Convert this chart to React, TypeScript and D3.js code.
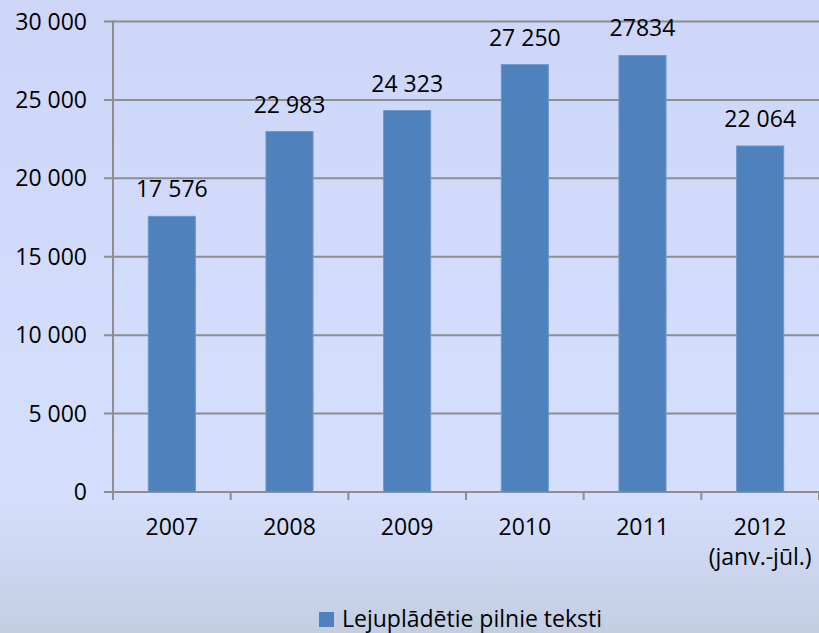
import React from 'react';
import * as d3 from 'd3';

const years = ['2007', '2008', '2009', '2010', '2011', '2012'];
const subLabels = ['', '', '', '', '', '(janv.-jūl.)'];
const downloads = [17576, 22983, 24323, 27250, 27834, 22064];
const valueLabels = ['17 576', '22 983', '24 323', '27 250', '27834', '22 064'];
const yTicks = [0, 5000, 10000, 15000, 20000, 25000, 30000];
const seriesName = 'Lejuplādētie pilnie teksti';

const W = 819;
const H = 633;
const font = '"Open Sans", sans-serif';
const fs = 23;

const fmt = (v: number) => (v >= 1000 ? `${Math.floor(v / 1000)} ${String(v % 1000).padStart(3, '0')}` : String(v));

export default function App() {
  const x = d3.scaleBand<string>().domain(years).range([113, 819]).padding(0);
  const y = d3.scaleLinear().domain([0, 30000]).range([492, 21.5]);
  const barW = x.bandwidth() * 0.4;
  const gridColor = '#8e8e8e';

  return (
    <svg width={W} height={H} style={{ position: 'absolute', left: 0, top: 0 }}>
      <defs>
        <linearGradient id="bg" x1="0" y1="0" x2="0" y2="1">
          <stop offset="0" stopColor="#cdd6f8" />
          <stop offset="0.78" stopColor="#d5dffd" />
          <stop offset="1" stopColor="#c3cee2" />
        </linearGradient>
      </defs>
      <rect x={0} y={0} width={W} height={H} fill="url(#bg)" />

      {yTicks.map(t => (
        <g key={t}>
          <line x1={104} x2={W} y1={y(t)} y2={y(t)} stroke={gridColor} strokeWidth={2} />
          <text x={87} y={y(t) + 8} textAnchor="end" fontFamily={font} fontSize={fs} fill="#000">
            {fmt(t)}
          </text>
        </g>
      ))}
      <line x1={113} x2={113} y1={y(30000) - 1} y2={500} stroke={gridColor} strokeWidth={2} />
      {years.map(c => (
        <line key={c} x1={(x(c) as number) + x.bandwidth()} x2={(x(c) as number) + x.bandwidth()} y1={492} y2={500} stroke={gridColor} strokeWidth={2} />
      ))}

      {years.map((c, i) => {
        const cx = (x(c) as number) + x.bandwidth() / 2;
        return (
          <g key={c}>
            <rect x={cx - barW / 2} y={y(downloads[i])} width={barW} height={y(0) - y(downloads[i])} fill="#4f81bd" stroke="#6f96c8" strokeWidth={1} />
            <text x={cx} y={y(downloads[i]) - 19} textAnchor="middle" fontFamily={font} fontSize={fs} fill="#000">
              {valueLabels[i]}
            </text>
            <text x={cx} y={535} textAnchor="middle" fontFamily={font} fontSize={fs} fill="#000">
              {c}
            </text>
            {subLabels[i] && (
              <text x={cx} y={565} textAnchor="middle" fontFamily={font} fontSize={fs} fill="#000">
                {subLabels[i]}
              </text>
            )}
          </g>
        );
      })}

      <rect x={319} y={612} width={15} height={15} fill="#4f81bd" />
      <text x={342} y={627} fontFamily={font} fontSize={fs} fill="#000">
        {seriesName}
      </text>
    </svg>
  );
}
